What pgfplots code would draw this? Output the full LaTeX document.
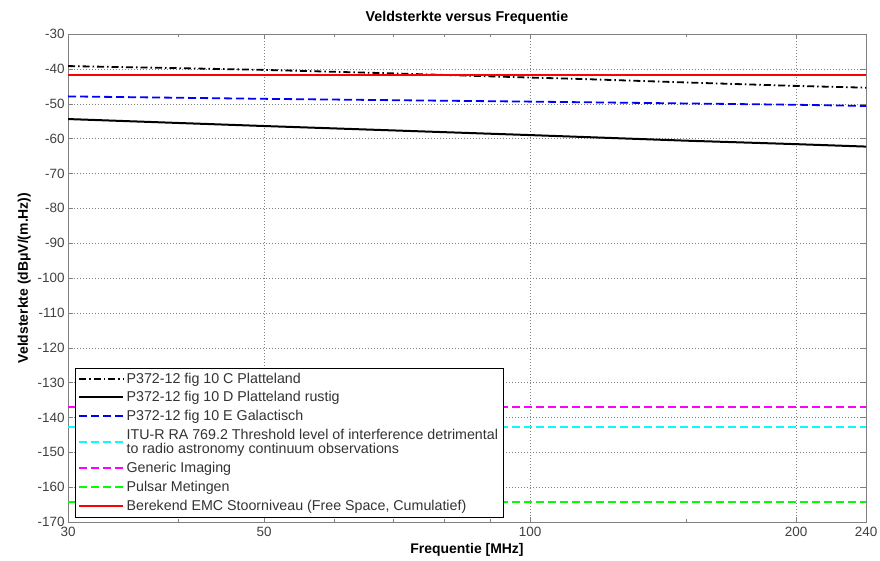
\documentclass[border=0pt]{standalone}
\usepackage{fontspec}
\setmainfont{Liberation Sans}
\usepackage{pgfplots}
\pgfplotsset{compat=1.18}

\definecolor{mblue}{rgb}{0,0,1}
\definecolor{mcyan}{rgb}{0,1,1}
\definecolor{mmag}{rgb}{1,0,1}
\definecolor{mgreen}{rgb}{0,1,0}
\definecolor{mred}{rgb}{1,0,0}

\begin{document}
\begin{tikzpicture}
\begin{axis}[
  name=ax,
  scale only axis,
  width=798bp, height=488bp,
  xmode=log,
  xmin=30, xmax=240,
  ymin=-170, ymax=-30,
  xtick={30,50,100,200,240},
  xticklabels={30,50,100,200,240},
  ytick={-170,-160,...,-30},
  minor xtick={40,60,70,80,90,150},
  /pgf/number format/assume math mode=true,
  ticklabel style={font=\fontsize{13.5}{16}\selectfont, text=black!75},
  xticklabel style={yshift=-1.5bp},
  axis line style={black!50},
  tick style={black!50},
  major tick length=5bp,
  minor tick length=3bp,
  xmajorgrids, ymajorgrids,
  major grid style={black!50, dash pattern=on 1bp off 2bp},
  title={Veldsterkte versus Frequentie},
  title style={font=\bfseries\fontsize{14.3}{16}\selectfont},
  xlabel={Frequentie [MHz]},
  ylabel={Veldsterkte (dBμV/(m.Hz))},
  label style={font=\bfseries\fontsize{14}{16}\selectfont},
  legend style={
    at={(0.0088,0.0102)}, anchor=south west,
    draw=black, fill=white,
    font=\fontsize{14.3}{14.5}\selectfont\color{black!80},
    cells={anchor=west, align=left},
    row sep=3bp,
    inner sep=3bp,
  },
  legend image code/.code={\draw[#1] (0bp,0bp) -- (44bp,0bp);},
]
\addplot[color=black, line width=1.8bp, dash pattern=on 7bp off 3bp on 1.5bp off 3bp] coordinates {
  (30,-39.2) (40,-39.8) (50,-40.3) (70,-41.3) (100,-42.5) (114,-42.9) (150,-43.9) (200,-44.9) (240,-45.4)
};
\addlegendentry{P372-12 fig 10 C Platteland}

\addplot[color=black, line width=2bp] coordinates {
  (30,-54.4) (50,-56.4) (100,-59.0) (150,-60.6) (200,-61.6) (240,-62.3)
};
\addlegendentry{P372-12 fig 10 D Platteland rustig}

\addplot[color=mblue, line width=1.8bp, dash pattern=on 8bp off 4bp] coordinates {
  (30,-47.9) (50,-48.6) (100,-49.4) (200,-50.3) (240,-50.65)
};
\addlegendentry{P372-12 fig 10 E Galactisch}

\addplot[color=mcyan, line width=1.8bp, dash pattern=on 8bp off 4bp] coordinates {
  (30,-142.8) (240,-142.8)
};
\addlegendentry{ITU-R RA 769.2 Threshold level of interference detrimental\\ to radio astronomy continuum observations}

\addplot[color=mmag, line width=1.8bp, dash pattern=on 8bp off 4bp] coordinates {
  (30,-137.1) (240,-137.1)
};
\addlegendentry{Generic Imaging}

\addplot[color=mgreen, line width=1.8bp, dash pattern=on 8bp off 4bp] coordinates {
  (30,-164.2) (240,-164.2)
};
\addlegendentry{Pulsar Metingen}

\addplot[color=mred, line width=2.4bp] coordinates {
  (30,-41.8) (240,-41.8)
};
\addlegendentry{Berekend EMC Stoorniveau (Free Space, Cumulatief)}
\end{axis}
\pgfresetboundingbox
\path[use as bounding box] ([shift={(-68bp,-39bp)}]ax.south west) rectangle ([shift={(14bp,34bp)}]ax.north east);
\end{tikzpicture}
\end{document}
